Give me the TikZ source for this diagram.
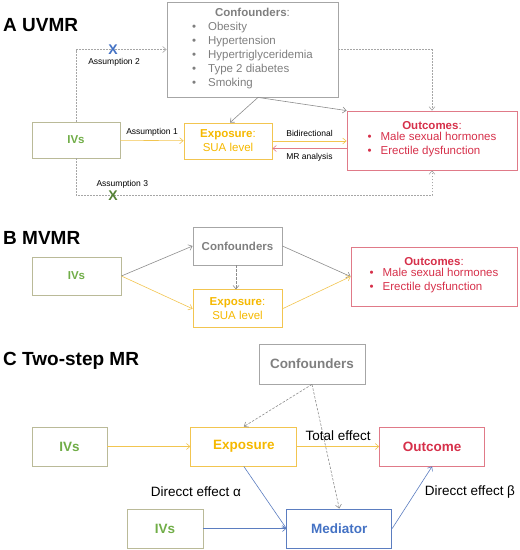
\documentclass[tikz,border=0pt]{standalone}
\usepackage{fontspec}
\setmainfont{Liberation Sans}
\usetikzlibrary{positioning, arrows.meta}
\definecolor{txtgray}{HTML}{7F7F7F}
\definecolor{boxgray}{HTML}{A6A6A6}
\definecolor{linegray}{HTML}{8C8C8C}
\definecolor{ivsborder}{HTML}{BABA98}
\definecolor{ivsgreen}{HTML}{70AD47}
\definecolor{expgold}{HTML}{F5B800}
\definecolor{expborder}{HTML}{F2C550}
\definecolor{outred}{HTML}{D6304A}
\definecolor{outborder}{HTML}{E07A88}
\definecolor{medblue}{HTML}{4472C4}
\definecolor{medborder}{HTML}{5B7DC0}
\definecolor{xgreen}{HTML}{548235}
\tikzstyle{box} = [rectangle, inner sep=0pt, align=center, line width=0.8pt, font=\fontsize{11.5}{14}\selectfont]
\tikzstyle{confounder} = [box, draw=boxgray, text=txtgray]
\tikzstyle{ivs} = [box, draw=ivsborder, text=ivsgreen]
\tikzstyle{exposure} = [box, draw=expborder, text=expgold]
\tikzstyle{outcome} = [box, draw=outborder, text=outred]
\tikzstyle{mediator} = [box, draw=medborder, text=medblue]
\tikzstyle{big} = [font=\fontsize{13.5}{16}\selectfont\bfseries]
\tikzstyle{title} = [anchor=west, inner sep=0pt, font=\fontsize{19}{22}\selectfont\bfseries]
\tikzstyle{note} = [font=\fontsize{8.5}{10}\selectfont, text=black]
\tikzstyle{effect} = [font=\fontsize{13.5}{16}\selectfont, text=black]
\tikzstyle{arrow} = [-{Straight Barb[length=3.5pt, width=6pt]}, line width=0.6pt]
\tikzstyle{grayarrow} = [arrow, draw=linegray]
\tikzstyle{yellowarrow} = [arrow, draw=expborder]
\tikzstyle{redarrow} = [arrow, draw=outborder]
\tikzstyle{bluearrow} = [arrow, draw=medborder]
\tikzstyle{dotarrow} = [arrow, draw=boxgray, dash pattern=on 1.6pt off 1.4pt]
\tikzstyle{dasharrow} = [arrow, draw=linegray, dash pattern=on 2.5pt off 1.5pt]
\tikzstyle{cross} = [inner sep=0pt, font=\fontsize{14}{14}\selectfont\bfseries]

\begin{document}
\begin{tikzpicture}[x=1pt, y=-1pt]
\useasboundingbox (0,0) rectangle (520,550);

% A UVMR
\node (titleA) [title] at (3,25) {A UVMR};
\node (confA) [confounder, minimum width=171pt, minimum height=95pt] at (252.5,49.5) {\textbf{Confounders}:\\[3pt]
  \begin{tabular}{@{}l@{\hspace{12pt}}l@{}}
  \textbullet & Obesity\\
  \textbullet & Hypertension\\
  \textbullet & Hypertriglyceridemia\\
  \textbullet & Type 2 diabetes\\
  \textbullet & Smoking
  \end{tabular}};
\node (ivsA) [ivs, minimum width=88pt, minimum height=36pt] at (76,140) {\textbf{IVs}};
\node (expA) [exposure, minimum width=88pt, minimum height=36pt] at (228,141) {\textbf{Exposure}:\\SUA level};
\node (outA) [outcome, minimum width=170pt, minimum height=59pt] at (432,140.5) {\textbf{Outcomes}:\\
  \begin{tabular}{@{}l@{\hspace{9pt}}l@{}}
  \textbullet & Male sexual hormones\\
  \textbullet & Erectile dysfunction
  \end{tabular}};

\draw [yellowarrow] (ivsA) -- node[note, above=1pt] {Assumption 1} (expA);
\draw [yellowarrow] (expA.east) -- node[note, above=1pt] {Bidirectional} (expA.east -| outA.west);
\draw [redarrow] ([yshift=-8pt]outA.west) -- node[note, below=1pt] {MR analysis} ([yshift=-8pt]outA.west -| expA.east);
\draw [grayarrow] ([xshift=5.5pt]confA.south) -- ([xshift=2pt]expA.north);
\draw [grayarrow] ([xshift=5.5pt]confA.south) -- (outA.north west);
\draw [dotarrow] (ivsA.north) |- node[pos=0.705, cross, text=medblue] {X} node[pos=0.71, note, below=5pt] {Assumption 2} (confA.west);
\draw [dotarrow] (confA.east) -| (outA.north);
\draw [dotarrow] (ivsA.south) -- ++(0,37) -| node[pos=0.052, cross, text=xgreen] {X} node[pos=0.065, note, above=4pt] {Assumption 3} (outA.south);

% B MVMR
\node (titleB) [title] at (3,237.5) {B MVMR};
\node (ivsB) [ivs, minimum width=89pt, minimum height=38pt] at (76.5,276) {\textbf{IVs}};
\node (confB) [confounder, minimum width=89pt, minimum height=38pt] at (237.5,246) {\textbf{Confounders}};
\node (expB) [exposure, below=24pt of confB, minimum width=89pt, minimum height=38pt] {\textbf{Exposure}:\\SUA level};
\node (outB) [outcome, minimum width=166pt, minimum height=59pt] at (434,276.5) {\textbf{Outcomes}:\\
  \begin{tabular}{@{}l@{\hspace{9pt}}l@{}}
  \textbullet & Male sexual hormones\\
  \textbullet & Erectile dysfunction
  \end{tabular}};

\draw [grayarrow] (ivsB.east) -- (confB.west);
\draw [yellowarrow] (ivsB.east) -- (expB.west);
\draw [grayarrow] (confB.east) -- (outB.west);
\draw [yellowarrow] (expB.east) -- (outB.west);
\draw [dasharrow] ([xshift=-1.5pt]confB.south) -- ([xshift=-1.5pt]expB.north);

% C Two-step MR
\node (titleC) [title] at (3,361) {C Two-step MR};
\node (confC) [confounder, big, minimum width=106pt, minimum height=40pt] at (312,364) {Confounders};
\node (ivsC) [ivs, big, minimum width=75pt, minimum height=39pt] at (69.5,446.5) {IVs};
\node (expC) [exposure, big, right=83pt of ivsC, minimum width=106pt, minimum height=39pt] {Exposure};
\node (outC) [outcome, big, right=82pt of expC, minimum width=105pt, minimum height=39pt] {Outcome};
\node (ivsM) [ivs, big, minimum width=76pt, minimum height=39pt] at (165,528.5) {IVs};
\node (medC) [mediator, big, right=83pt of ivsM, minimum width=105pt, minimum height=39pt] {Mediator};
\node (alpha) [effect] at (196,492) {Direcct effect α};
\node (beta) [effect] at (470,492) {Direcct effect β};

\draw [yellowarrow] (ivsC) -- (expC);
\draw [yellowarrow] (expC) -- node[effect, above=2.5pt] {Total effect} (outC);
\draw [dasharrow] (confC.south) -- (expC.north);
\draw [dasharrow] (confC.south) -- (medC.north);
\draw [bluearrow] (expC.south) -- (medC.west);
\draw [bluearrow] (ivsM) -- (medC);
\draw [bluearrow] (medC.east) -- (outC.south);

\end{tikzpicture}
\end{document}
